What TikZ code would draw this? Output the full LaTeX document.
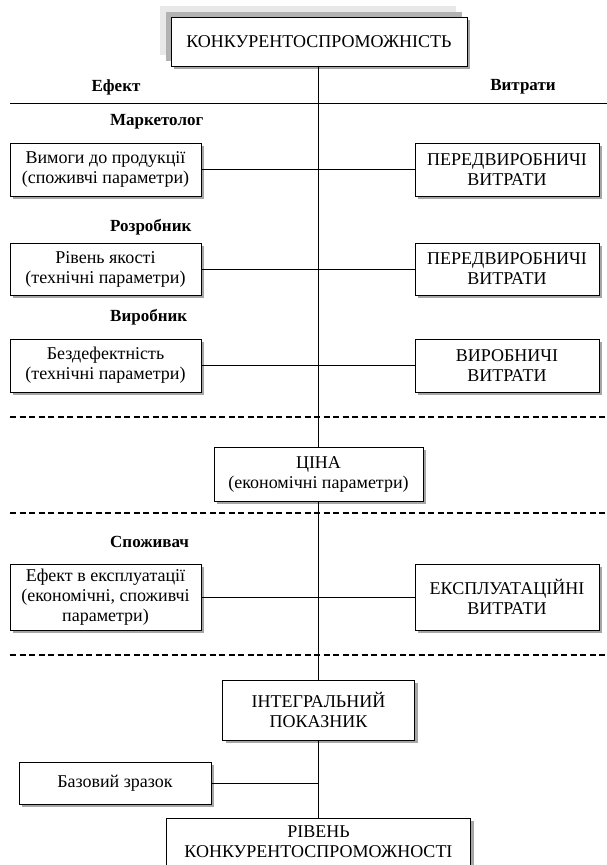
\documentclass[tikz,border=0pt]{standalone}
\usepackage{fontspec}
\setmainfont{Liberation Serif}
\usetikzlibrary{shadows}

\begin{document}
\begin{tikzpicture}[
  x=1pt, y=-1pt,
  box/.style={draw, line width=1pt, fill=white, align=center,
              font=\fontsize{18}{20}\selectfont, inner sep=2pt,
              drop shadow={shadow xshift=3pt, shadow yshift=-3pt,
                            fill=gray!70, opacity=1}},
  lbox/.style={box, minimum width=191pt},
  rbox/.style={box, minimum width=184pt},
  role/.style={anchor=west, font=\fontsize{17}{19}\selectfont\bfseries, inner sep=0pt},
  head/.style={font=\fontsize{17}{19}\selectfont\bfseries, inner sep=0pt},
  link/.style={line width=1pt},
  sep/.style={line width=1.6pt, dash pattern=on 6pt off 3.5pt}]
\useasboundingbox (0,0) rectangle (607,865);
% title with stacked backdrop
\node[box, minimum width=296pt, minimum height=49pt,
      general shadow={fill=gray!18, shadow xshift=-11pt, shadow yshift=11pt},
      general shadow={fill=gray!60, shadow xshift=-5pt, shadow yshift=5pt}]
  (top) at (319,41.5) {КОНКУРЕНТОСПРОМОЖНІСТЬ};
% column heads
\node[head] (eff) at (116,87) {Ефект};
\node[head] (cost) at (523,87) {Витрати};
\coordinate (hl) at (10,103); \coordinate (hr) at (607,103);
\draw[link] (hl) -- (hr);
% roles and pairs effect / cost
\node[role] (mkt) at (110,122) {Маркетолог};
\node[lbox, minimum height=53pt] (req) at (105.5,169.5) {Вимоги до продукції\\(споживчі параметри)};
\node[rbox, minimum height=53pt] (pre1) at (507,169.5) {ПЕРЕДВИРОБНИЧІ\\ВИТРАТИ};
\node[role] (dev) at (110,227) {Розробник};
\node[lbox, minimum height=52pt] (qual) at (105.5,269) {Рівень якості\\(технічні параметри)};
\node[rbox, minimum height=52pt] (pre2) at (507,269) {ПЕРЕДВИРОБНИЧІ\\ВИТРАТИ};
\node[role] (mfr) at (110,317) {Виробник};
\node[lbox, minimum height=53pt] (flaw) at (105.5,365.5) {Бездефектність\\(технічні параметри)};
\node[rbox, minimum height=53pt] (prod) at (507,365.5) {ВИРОБНИЧІ\\ВИТРАТИ};
\coordinate (s1l) at (10,417); \coordinate (s1r) at (607,417);
\draw[sep] (s1l) -- (s1r);
% price
\node[box, minimum width=209pt, minimum height=54pt] (price) at (318.5,474) {ЦІНА\\(економічні параметри)};
\coordinate (s2l) at (10,513); \coordinate (s2r) at (607,513);
\draw[sep] (s2l) -- (s2r);
% consumer
\node[role] (cons) at (110,542) {Споживач};
\node[lbox, minimum height=66pt] (use) at (105.5,597) {Ефект в експлуатації\\(економічні, споживчі\\параметри)};
\node[rbox, minimum height=66pt] (oper) at (507,597) {ЕКСПЛУАТАЦІЙНІ\\ВИТРАТИ};
\coordinate (s3l) at (10,655); \coordinate (s3r) at (607,655);
\draw[sep] (s3l) -- (s3r);
% result
\node[box, minimum width=192pt, minimum height=60pt] (integ) at (318.5,710) {ІНТЕГРАЛЬНИЙ\\ПОКАЗНИК};
\node[box, minimum width=192pt, minimum height=42pt] (base) at (115,783) {Базовий зразок};
\node[box, minimum width=304pt, minimum height=48pt] (level) at (318.5,842) {РІВЕНЬ\\КОНКУРЕНТОСПРОМОЖНОСТІ};
% trunk and branches
\draw[link] (top.south -| price.north) -- (price.north);
\draw[link] (price.south) -- (integ.north);
\draw[link] (integ.south) -- (level.north);
\draw[link] (req.east) -- (pre1.west);
\draw[link] (qual.east) -- (pre2.west);
\draw[link] (flaw.east) -- (prod.west);
\draw[link] (use.east) -- (oper.west);
\draw[link] (base.east) -- (base.east -| integ.south);
\end{tikzpicture}
\end{document}
